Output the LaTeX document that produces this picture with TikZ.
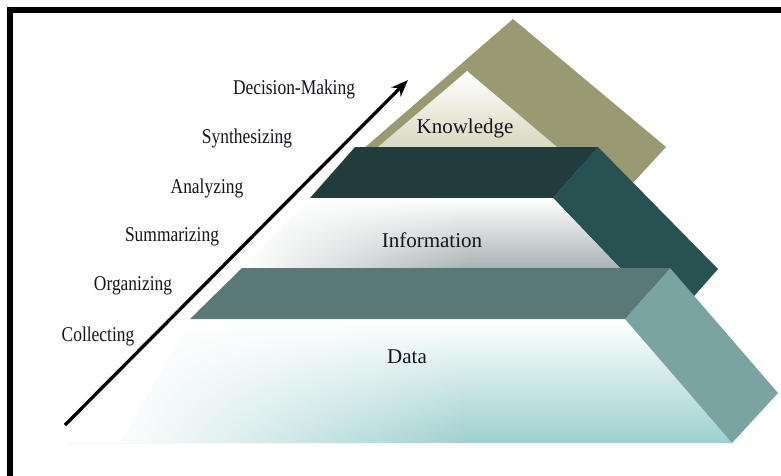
\documentclass[tikz,border=0pt]{standalone}
\usepackage{fontspec}
\usepackage{graphicx}
\setmainfont{Liberation Serif}
\usetikzlibrary{arrows.meta,fadings}
\definecolor{olive}{HTML}{9A9A72}
\definecolor{darkfront}{HTML}{213C3C}
\definecolor{darkside}{HTML}{285252}
\definecolor{midfront}{HTML}{5A7876}
\definecolor{lightside}{HTML}{7AA4A2}
\definecolor{datateal}{HTML}{9DD0CF}
\definecolor{infogray}{HTML}{A9B3B3}
\definecolor{knowtan}{HTML}{D9D8BF}
\definecolor{txt}{HTML}{14141E}
\tikzset{
  sidelabel/.style={inner sep=0pt, text=txt, font=\fontsize{21}{21}\selectfont},
  layerlabel/.style={inner sep=0pt, text=txt, font=\fontsize{21}{21}\selectfont},
}
\newcommand{\cond}[1]{\scalebox{0.83}[1]{#1}}
\begin{document}
\begin{tikzpicture}[x=1pt,y=-1pt]
\useasboundingbox (0,0) rectangle (781,475);
\fill[white] (0,0) rectangle (781,475);
% frame (only top and left edges visible)
\draw[line width=5.5pt] (10,480) -- (10,10) -- (790,10);

% Knowledge layer
\fill[olive] (362,150) -- (513,19) -- (666,147) -- (620,197) -- (557,150) -- cycle;
\shade[top color=white, bottom color=knowtan] (467,71) -- (557,147) -- (378,147) -- cycle;

% Information layer
\fill[darkside] (553,198) -- (598,147) -- (718,269) -- (680,312) -- (620,268) -- cycle;
\fill[darkfront] (355,147) -- (598,147) -- (553,198) -- (310,198) -- cycle;
\shade[top color=white, bottom color=infogray] (310,198) -- (553,198) -- (620,268) -- (242,268) -- cycle;
\fill[white, path fading=east] (242,198) rectangle (470,268);

% Data layer
\shade[top color=white, bottom color=datateal] (190,320) -- (625,320) -- (732,443) -- (67,443) -- cycle;
\fill[white, path fading=east] (110,320) rectangle (470,443);
\fill[white] (60,320) -- (190,320) -- (120,443) -- (60,443) -- cycle;
\fill[lightside] (670,268) -- (778,393) -- (732,443) -- (625,319) -- cycle;
\fill[midfront] (242,268) -- (670,268) -- (625,319) -- (190,319) -- cycle;

% arrow
\coordinate (as) at (65,425);
\coordinate (ae) at (408,80);
\draw[line width=3.3pt, -{Stealth[length=17pt,width=13pt]}] (as) -- (ae);

% layer labels
\node[layerlabel] (know) at (465,128) {Knowledge};
\node[layerlabel] (info) at (432,240) {Information};
\node[layerlabel] (data) at (407,357) {Data};

% side labels
\node[sidelabel] (l6) at (294,89) {\cond{Decision-Making}};
\node[sidelabel] (l5) at (247,138) {\cond{Synthesizing}};
\node[sidelabel] (l4) at (207,188) {\cond{Analyzing}};
\node[sidelabel] (l3) at (172,237) {\cond{Summarizing}};
\node[sidelabel] (l2) at (133,286) {\cond{Organizing}};
\node[sidelabel] (l1) at (98,336) {\cond{Collecting}};
\end{tikzpicture}
\end{document}
